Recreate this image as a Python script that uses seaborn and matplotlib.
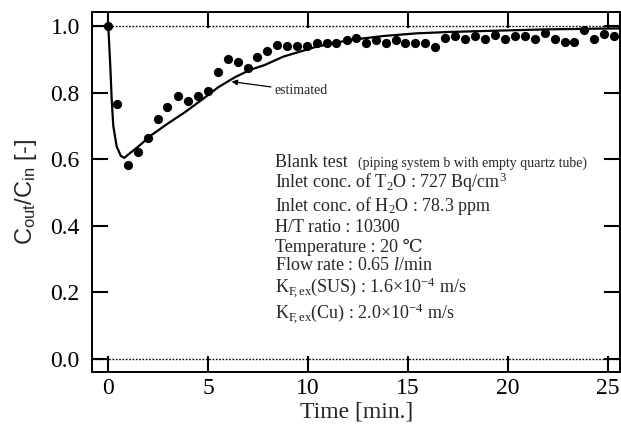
import matplotlib
matplotlib.use("Agg")
import matplotlib.pyplot as plt
import seaborn as sns
import pandas as pd

# measured data points (Time [min.], Cout/Cin)
times = [0, 0.45, 0.97, 1.47, 1.97, 2.47, 2.95, 3.47, 3.97, 4.47,
         4.97, 5.47, 5.97, 6.47, 6.97, 7.45, 7.95, 8.45, 8.95, 9.45,
         9.92, 10.42, 10.92, 11.38, 11.92, 12.38, 12.88, 13.38, 13.88, 14.38,
         14.85, 15.35, 15.85, 16.35, 16.83, 17.33, 17.83, 18.33, 18.87, 19.37,
         19.83, 20.33, 20.83, 21.33, 21.83, 22.33, 22.83, 23.3, 23.78, 24.28,
         24.78, 25.28]
ratios = [1.0, 0.766, 0.582, 0.622, 0.665, 0.72, 0.758, 0.79, 0.775, 0.789,
          0.806, 0.861, 0.9, 0.892, 0.875, 0.908, 0.926, 0.942, 0.941, 0.94,
          0.941, 0.95, 0.949, 0.95, 0.957, 0.965, 0.948, 0.957, 0.948, 0.957,
          0.949, 0.948, 0.948, 0.938, 0.963, 0.971, 0.961, 0.971, 0.961, 0.973,
          0.961, 0.971, 0.971, 0.961, 0.978, 0.961, 0.953, 0.953, 0.988, 0.961,
          0.976, 0.971]

# estimated curve
est_t = [0, 0.1, 0.17, 0.25, 0.42, 0.63, 0.8, 1.08, 1.5, 2.17, 3.0, 3.83, 4.67,
         5.5, 6.33, 7.08, 7.83, 8.75, 10.42, 12.08, 13.77, 15.42, 17.0, 19.4,
         22.0, 25.6]
est_v = [1.0, 0.88, 0.78, 0.70, 0.638, 0.61, 0.604, 0.618, 0.638, 0.673, 0.708,
         0.741, 0.778, 0.816, 0.846, 0.868, 0.883, 0.908, 0.938, 0.958, 0.97,
         0.978, 0.982, 0.986, 0.99, 0.993]

xticks = [0, 5, 10, 15, 20, 25]
yticks = [0.0, 0.2, 0.4, 0.6, 0.8, 1.0]
ytick_labels = ["0.0", "0.2", "0.4", "0.6", "0.8", "1.0"]

info_lines = [
    r"Inlet conc. of T$_2$O : 727 Bq/cm$^3$",
    r"Inlet conc. of H$_2$O : 78.3 ppm",
    "H/T ratio : 10300",
    "Temperature : 20 \u2103",
    r"Flow rate : 0.65 $\mathit{l}$/min",
    r"K$_{\mathrm{F\!,ex}}$(SUS) : 1.6$\times$10$^{\mathrm{-4}}$ m/s",
    r"K$_{\mathrm{F\!,ex}}$(Cu) : 2.0$\times$10$^{\mathrm{-4}}$ m/s",
]
info_y = [0.514, 0.444, 0.381, 0.321, 0.267, 0.199, 0.120]

sns.set_theme(style="ticks")
plt.rcParams["font.family"] = ["Liberation Serif", "DejaVu Serif"]
plt.rcParams["mathtext.fontset"] = "custom"
plt.rcParams["mathtext.rm"] = "Liberation Serif"
plt.rcParams["mathtext.it"] = "Liberation Serif:italic"
plt.rcParams["mathtext.bf"] = "Liberation Serif:bold"
plt.rcParams["mathtext.sf"] = "Liberation Sans"

fig = plt.figure(figsize=(6.21, 4.34), dpi=100)
ax = fig.add_axes([92.3 / 621, 62 / 434, (620 - 92.3) / 621, (372 - 11.7) / 434])

df_pts = pd.DataFrame({"t": times, "r": ratios})
df_est = pd.DataFrame({"t": est_t, "r": est_v})

ax.axhline(1.0, color="black", lw=1.0, ls=(0, (1.2, 1.2)), zorder=1)
ax.axhline(0.0, color="black", lw=1.0, ls=(0, (1.2, 1.2)), zorder=1)

sns.lineplot(data=df_est, x="t", y="r", ax=ax, color="black", lw=1.6,
             sort=False, estimator=None, zorder=2)
sns.scatterplot(data=df_pts, x="t", y="r", ax=ax, color="black", s=44,
                edgecolor="black", linewidth=0, zorder=3)

ax.set_xlim(-0.8, 25.6)
ax.set_ylim(-0.039, 1.043)
ax.set_xticks(xticks)
ax.set_yticks(yticks)
ax.set_yticklabels(ytick_labels)
ax.tick_params(axis="both", direction="in", length=11.5, width=1.5,
               top=True, right=True, labelsize=17, colors="black")
ax.tick_params(axis="y", pad=9)
ax.tick_params(axis="x", pad=4)
for sp in ax.spines.values():
    sp.set_linewidth(1.4)
    sp.set_color("black")

ax.set_xlabel("Time [min.]", fontsize=17, labelpad=2)
ax.set_ylabel(r"$\mathsf{C_{out}/C_{in}}$ [-]", fontsize=17,
              family=["Liberation Sans", "DejaVu Sans"], labelpad=8)

ax.annotate("estimated", xy=(6.17, 0.833), xytext=(8.3, 0.805),
            fontsize=10, va="center", ha="left",
            arrowprops=dict(arrowstyle="-|>", color="black", lw=0.9,
                            shrinkA=0, shrinkB=0, mutation_scale=8))

ax.text(8.32, 0.5775, "Blank test", fontsize=13, va="baseline", ha="left")
ax.text(12.5, 0.5775, "(piping system b with empty quartz tube)", fontsize=10,
        va="baseline", ha="left")
for line, yy in zip(info_lines, info_y):
    ax.text(8.32, yy, line, fontsize=13, va="baseline", ha="left")

fig.savefig("out.png", dpi=100)
